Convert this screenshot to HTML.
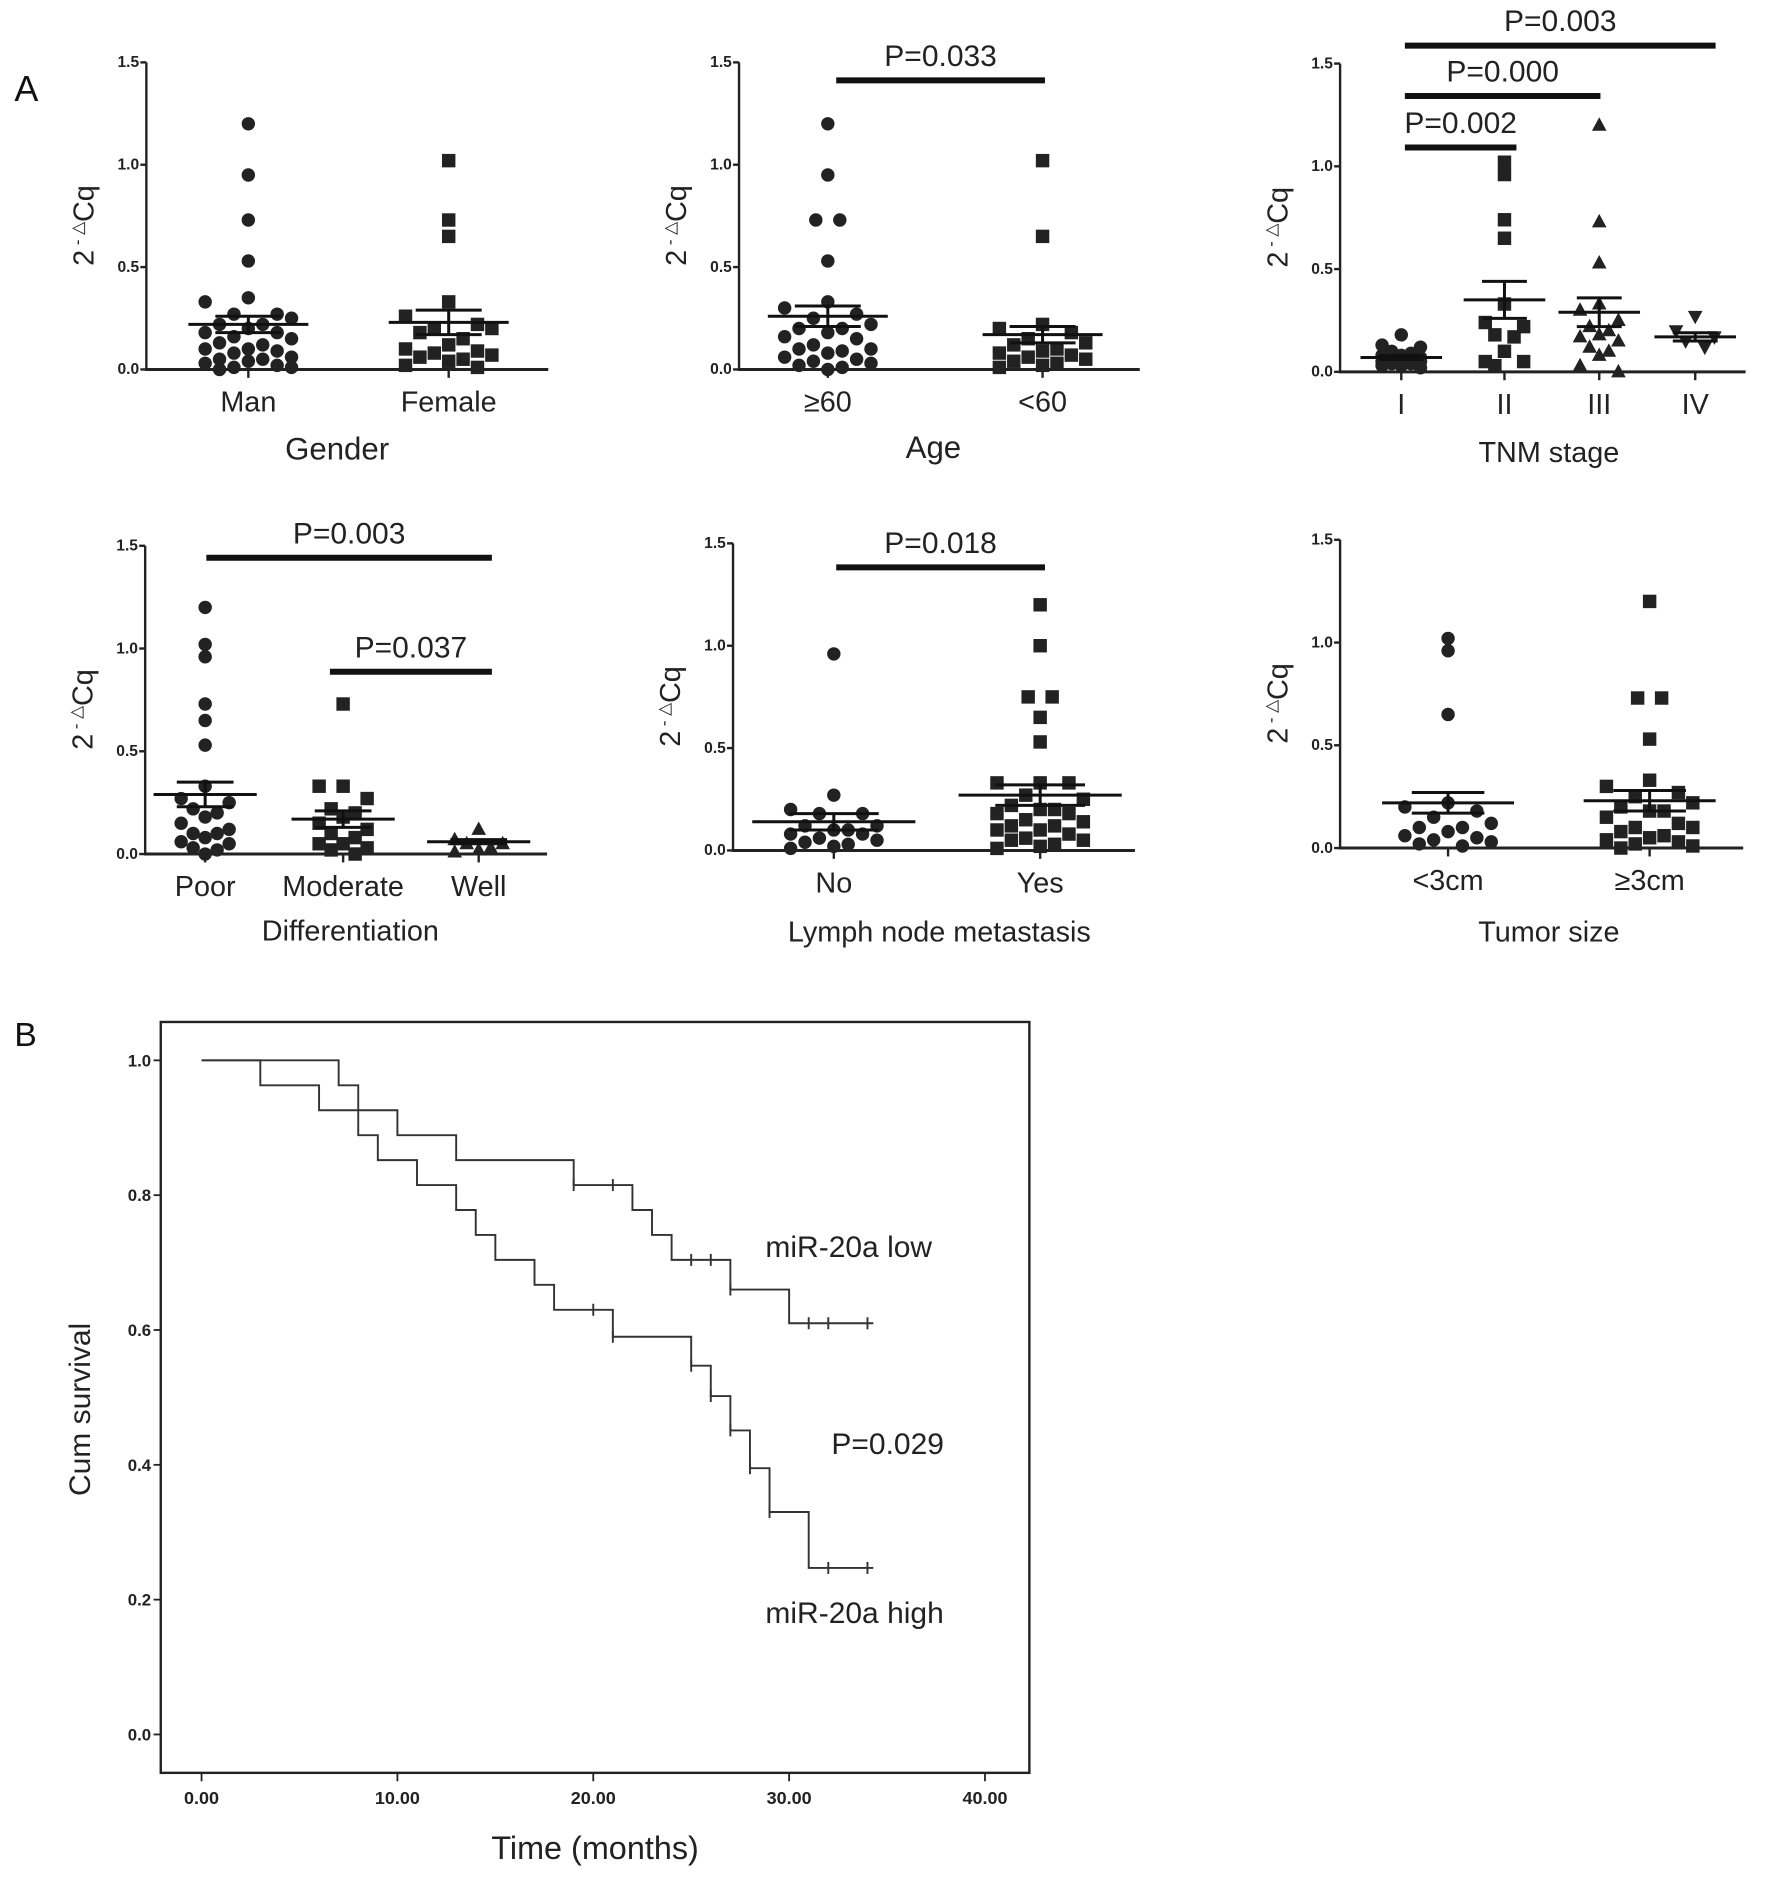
<!DOCTYPE html>
<html><head><meta charset="utf-8"><style>
html,body{margin:0;padding:0;background:#fff;}
svg{display:block;font-family:"Liberation Sans",sans-serif;}
</style></head><body>
<svg id="fig" width="1772" height="1888" viewBox="0 0 1477 1574" preserveAspectRatio="none" xmlns="http://www.w3.org/2000/svg">
<rect width="1477" height="1574" fill="#fff"/>
<text x="12" y="84" font-size="30" fill="#111">A</text>
<text x="12" y="872" font-size="28" fill="#111">B</text>
<g id="scatter"></g>
<g id="km"></g>
</svg>
<script>
// ---- scatter data ----
const genderCats = ["Man","Female"];
const genderMan = [1.2,0.95,0.73,0.53,0.35,0.33,0.27,0.27,0.25,0.22,0.22,0.2,0.18,0.18,0.16,0.15,0.13,0.12,0.1,0.1,0.09,0.08,0.06,0.05,0.05,0.04,0.03,0.02,0.01,0.01,0.0];
const genderFemale = [1.02,0.73,0.65,0.33,0.26,0.22,0.2,0.2,0.18,0.15,0.12,0.1,0.09,0.08,0.07,0.06,0.05,0.04,0.02,0.01];
const genderMeans = [0.22,0.23];
const genderSems = [0.04,0.06];
const ageCats = ["≥60","<60"];
const ageOld = [1.2,0.95,0.73,0.73,0.53,0.33,0.3,0.27,0.25,0.22,0.2,0.2,0.18,0.16,0.15,0.12,0.1,0.1,0.09,0.08,0.06,0.05,0.04,0.03,0.02,0.01,0.0];
const ageYoung = [1.02,0.65,0.22,0.2,0.18,0.15,0.13,0.12,0.1,0.09,0.08,0.07,0.06,0.05,0.04,0.03,0.02,0.01];
const ageMeans = [0.26,0.17];
const ageSems = [0.05,0.04];
const tnmCats = ["I","II","III","IV"];
const tnmI = [0.18,0.13,0.12,0.1,0.09,0.08,0.08,0.07,0.07,0.06,0.06,0.05,0.05,0.04,0.04,0.03,0.03,0.02];
const tnmII = [1.02,0.96,0.74,0.65,0.33,0.24,0.22,0.18,0.17,0.1,0.05,0.05,0.03];
const tnmIII = [1.2,0.73,0.53,0.33,0.3,0.25,0.22,0.2,0.18,0.17,0.15,0.12,0.1,0.08,0.03,0.0];
const tnmIV = [0.27,0.2,0.17,0.15,0.12];
const tnmMeans = [0.07,0.35,0.29,0.17];
const tnmSems = [0.01,0.09,0.07,0.02];
const diffCats = ["Poor","Moderate","Well"];
const diffPoor = [1.2,1.02,0.96,0.73,0.65,0.53,0.33,0.27,0.25,0.22,0.2,0.18,0.15,0.12,0.1,0.1,0.08,0.06,0.05,0.03,0.02,0.0];
const diffModerate = [0.73,0.33,0.33,0.27,0.22,0.2,0.18,0.15,0.12,0.1,0.08,0.05,0.05,0.03,0.02,0.0];
const diffWell = [0.12,0.07,0.05,0.05,0.03,0.02,0.01];
const diffMeans = [0.29,0.17,0.06];
const diffSems = [0.06,0.04,0.01];
const lymphCats = ["No","Yes"];
const lymphNo = [0.96,0.27,0.2,0.18,0.18,0.12,0.12,0.1,0.1,0.08,0.08,0.06,0.05,0.04,0.03,0.02,0.01];
const lymphYes = [1.2,1.0,0.75,0.75,0.65,0.53,0.33,0.33,0.33,0.27,0.25,0.22,0.2,0.2,0.18,0.18,0.15,0.14,0.12,0.12,0.1,0.1,0.08,0.06,0.05,0.05,0.03,0.02,0.01];
const lymphMeans = [0.14,0.27];
const lymphSems = [0.04,0.05];
const sizeCats = ["<3cm","≥3cm"];
const sizeSmall = [1.02,0.96,0.65,0.22,0.2,0.18,0.15,0.12,0.1,0.1,0.08,0.06,0.05,0.04,0.03,0.02,0.01];
const sizeLarge = [1.2,0.73,0.73,0.53,0.33,0.3,0.27,0.25,0.22,0.2,0.18,0.18,0.15,0.12,0.1,0.1,0.08,0.06,0.05,0.04,0.03,0.02,0.01,0.0];
const sizeMeans = [0.22,0.23];
const sizeSems = [0.05,0.05];
const yTicks = [0,0.5,1.0,1.5];
const yTickLabels = ["0.0","0.5","1.0","1.5"];
const pLabelsTnm = ["P=0.002","P=0.000","P=0.003"];
const pLabelsDiff = ["P=0.003","P=0.037"];

// ---- KM data ----
const lowTimes = [0,7,8,10,13,19,22,23,24,27,30];
const lowSurv = [1,0.963,0.926,0.889,0.852,0.815,0.778,0.741,0.704,0.66,0.61];
const lowCensor = [19,21,25,26,27,31,32,34];
const lowEnd = 34.3;
const highTimes = [0,3,6,8,9,11,13,14,15,17,18,21,25,26,27,28,29,31];
const highSurv = [1,0.963,0.926,0.889,0.852,0.815,0.778,0.741,0.704,0.667,0.63,0.59,0.547,0.502,0.451,0.395,0.33,0.247];
const highCensor = [20,21,25,26,27,28,29,32,34];
const highEnd = 34.3;
const kmXTicks = [0,10,20,30,40];
const kmXTickLabels = ["0.00","10.00","20.00","30.00","40.00"];
const kmYTicks = [0,0.2,0.4,0.6,0.8,1.0];
const kmYTickLabels = ["0.0","0.2","0.4","0.6","0.8","1.0"];

const NS="http://www.w3.org/2000/svg";
function mk(tag, attrs, parent){const e=document.createElementNS(NS,tag);for(const k in attrs)e.setAttribute(k,attrs[k]);parent.appendChild(e);return e;}
const root=document.getElementById('scatter');

function marker(g, shape, x, y){
  let e; const r=5.6;
  if(shape==='circle') e=mk('circle',{cx:x,cy:y,r:r,fill:'#222'},g);
  else if(shape==='square') e=mk('rect',{x:x-r,y:y-r,width:2*r,height:2*r,fill:'#222'},g);
  else if(shape==='tri') e=mk('polygon',{points:`${x},${y-r-1} ${x-r-0.5},${y+r-1} ${x+r+0.5},${y+r-1}`,fill:'#222'},g);
  else e=mk('polygon',{points:`${x},${y+r+1} ${x-r-0.5},${y-r+1} ${x+r+0.5},${y-r+1}`,fill:'#222'},g);
  
  
}

function panel(cfg){
  const g=mk('g',{},root);
  
  
  const ys=v=>cfg.y0-(cfg.y0-cfg.y15)*v/1.5;
  const ax=mk('line',{x1:cfg.ax,y1:cfg.y15,x2:cfg.ax,y2:cfg.y0,stroke:'#222','stroke-width':2},g);
  
  const xa=mk('line',{x1:cfg.ax-1,y1:cfg.y0,x2:cfg.xr,y2:cfg.y0,stroke:'#222','stroke-width':2.5},g);
  
  yTicks.forEach((t,i)=>{
    mk('line',{x1:cfg.ax-5,y1:ys(t),x2:cfg.ax,y2:ys(t),stroke:'#222','stroke-width':2},g);
    const tx=mk('text',{x:cfg.ax-6,y:ys(t)+4,'font-size':13,'font-weight':'bold','text-anchor':'end',fill:'#222'},g);
    tx.textContent=yTickLabels[i];
    
  });
  const yl=mk('text',{transform:`translate(${cfg.ax-44},${(cfg.y0+cfg.y15)/2+8}) rotate(-90)`,'font-size':24,'text-anchor':'middle',fill:'#222'},g);
  
  yl.innerHTML='2<tspan font-size="14" dy="-9"> - △</tspan><tspan dy="9">Cq</tspan>';
  const sp=cfg.sp||12;
  cfg.groups.forEach((vals,gi)=>{
    const cx=cfg.xs[gi];
    mk('line',{x1:cx,y1:cfg.y0,x2:cx,y2:cfg.y0+7,stroke:'#222','stroke-width':2},g);
    const lab=mk('text',{x:cx,y:cfg.y0+35,'font-size':cfg.catFs||24,'text-anchor':'middle',fill:'#222'},g);
    lab.textContent=cfg.cats[gi];
    
    const cols=cfg.cols||7;
    const low=vals.filter(v=>v<0.4);
    const high=vals.filter(v=>v>=0.4);
    const nc=Math.min(cols,low.length);
    const order7=[3,0,5,2,6,1,4], order5=[2,0,4,1,3];
    low.forEach((v,k)=>{
      let c;
      if(nc===7) c=order7[k%7]; else if(nc===5) c=order5[k%5]; else c=k%nc;
      const off=(c-(nc-1)/2)*sp;
      marker(g,cfg.shapes[gi],cx+off,ys(v));
    });
    const bins={};
    high.forEach(v=>{const b=Math.round(v/0.05);(bins[b]=bins[b]||[]).push(v);});
    Object.keys(bins).forEach(b=>{
      const arr=bins[b];const n=arr.length;
      arr.forEach((v,k)=>marker(g,cfg.shapes[gi],cx+(k-(n-1)/2)*20,ys(v)));
    });
    const m=cfg.means[gi], s=cfg.sems[gi];
    mk('line',{x1:cx-cfg.mw,y1:ys(m),x2:cx+cfg.mw,y2:ys(m),stroke:'#111','stroke-width':2.5},g);
    mk('line',{x1:cx-cfg.mw*0.55,y1:ys(m+s),x2:cx+cfg.mw*0.55,y2:ys(m+s),stroke:'#111','stroke-width':2.5},g);
    mk('line',{x1:cx-cfg.mw*0.55,y1:ys(m-s),x2:cx+cfg.mw*0.55,y2:ys(m-s),stroke:'#111','stroke-width':2.5},g);
    mk('line',{x1:cx,y1:ys(m+s),x2:cx,y2:ys(m-s),stroke:'#111','stroke-width':2.5},g);
  });
  const tt=mk('text',{x:cfg.tx,y:cfg.ty,'font-size':cfg.tfs||26,'text-anchor':'middle',fill:'#222'},g);
  tt.textContent=cfg.title;
  
  (cfg.bars||[]).forEach(b=>{
    const bl=mk('line',{x1:b[0],y1:b[2],x2:b[1],y2:b[2],stroke:'#111','stroke-width':5},g);
    
    const pt=mk('text',{x:(b[0]+b[1])/2,y:b[2]-12,'font-size':25,'text-anchor':'middle',fill:'#222'},g);
    pt.textContent=b[3];
    
  });
}

panel({name:'gender-panel',ax:122,y0:308,y15:52,xr:457,xs:[207,374],cats:genderCats,groups:[genderMan,genderFemale],shapes:['circle','square'],means:genderMeans,sems:genderSems,mw:50,title:'Gender',tx:281,ty:383});
panel({name:'age-panel',ax:616,y0:308,y15:52,xr:950,xs:[690,869],cats:ageCats,groups:[ageOld,ageYoung],shapes:['circle','square'],means:ageMeans,sems:ageSems,mw:50,title:'Age',tx:778,ty:382,bars:[[697,871,67,'P=0.033']]});
panel({name:'tnm-panel',ax:1117,y0:310,y15:53,xr:1455,xs:[1168,1254,1333,1413],cats:tnmCats,groups:[tnmI,tnmII,tnmIII,tnmIV],shapes:['circle','square','tri','dtri'],means:tnmMeans,sems:tnmSems,mw:34,cols:5,sp:8,title:'TNM  stage',tx:1291,ty:385,tfs:24,bars:[[1171,1264,123,pLabelsTnm[0]],[1171,1334,80,pLabelsTnm[1]],[1171,1430,38,pLabelsTnm[2]]]});
panel({name:'differentiation-panel',ax:121,y0:712,y15:455,xr:456,xs:[171,286,399],cats:diffCats,groups:[diffPoor,diffModerate,diffWell],shapes:['circle','square','tri'],means:diffMeans,sems:diffSems,mw:43,cols:5,sp:10,title:'Differentiation',tx:292,ty:784,tfs:24,bars:[[172,410,465,pLabelsDiff[0]],[275,410,560,pLabelsDiff[1]]]});
panel({name:'lymph-node-panel',ax:611,y0:709,y15:453,xr:946,xs:[695,867],cats:lymphCats,groups:[lymphNo,lymphYes],shapes:['circle','square'],means:lymphMeans,sems:lymphSems,mw:68,title:'Lymph  node metastasis',tx:783,ty:785,tfs:24,bars:[[697,871,473,'P=0.018']]});
panel({name:'tumor-size-panel',ax:1117,y0:707,y15:450,xr:1453,xs:[1207,1375],cats:sizeCats,groups:[sizeSmall,sizeLarge],shapes:['circle','square'],means:sizeMeans,sems:sizeSems,mw:55,title:'Tumor size',tx:1291,ty:785,tfs:24});

// ---- KM ----
const km=document.getElementById('km');
const kx=t=>168+t*(821-168)/40;
const ky=s=>1446-s*(1446-884);
const fr=mk('rect',{x:134,y:852,width:724,height:626,fill:'none',stroke:'#222','stroke-width':2},km);

kmYTicks.forEach((t,i)=>{
  mk('line',{x1:128,y1:ky(t),x2:134,y2:ky(t),stroke:'#222','stroke-width':1.5},km);
  const tx=mk('text',{x:126,y:ky(t)+5,'font-size':14,'font-weight':'bold','text-anchor':'end',fill:'#222'},km);
  tx.textContent=kmYTickLabels[i];
  
});
kmXTicks.forEach((t,i)=>{
  mk('line',{x1:kx(t),y1:1478,x2:kx(t),y2:1485,stroke:'#222','stroke-width':1.5},km);
  const tx=mk('text',{x:kx(t),y:1504,'font-size':15,'font-weight':'bold','text-anchor':'middle',fill:'#222'},km);
  tx.textContent=kmXTickLabels[i];
  
});
function kmCurve(times,surv,censor,end,name){
  let d=`M${kx(times[0])},${ky(surv[0])}`;
  for(let i=1;i<times.length;i++){d+=` H${kx(times[i])} V${ky(surv[i])}`;}
  d+=` H${kx(end)}`;
  const p=mk('path',{d:d,fill:'none',stroke:'#333','stroke-width':1.6},km);
  
  
  censor.forEach(c=>{
    let s=surv[0];for(let i=0;i<times.length;i++){if(times[i]<=c)s=surv[i];}
    const cl=mk('line',{x1:kx(c),y1:ky(s)-5,x2:kx(c),y2:ky(s)+5,stroke:'#333','stroke-width':1.6},km);
    
  });
}
kmCurve(lowTimes,lowSurv,lowCensor,lowEnd,'mir20a-low-curve');
kmCurve(highTimes,highSurv,highCensor,highEnd,'mir20a-high-curve');
[['miR-20a low',638,1048,'low-label'],['P=0.029',693,1212,'km-p-value'],['miR-20a high',638,1353,'high-label']].forEach(a=>{
  const t=mk('text',{x:a[1],y:a[2],'font-size':25,fill:'#222'},km);
  t.textContent=a[0];
  
});
const kyl=mk('text',{transform:'translate(75,1175) rotate(-90)','font-size':25,'text-anchor':'middle',fill:'#222'},km);
kyl.textContent='Cum survival';

const kxl=mk('text',{x:496,y:1550,'font-size':27,'text-anchor':'middle',fill:'#222'},km);
kxl.textContent='Time (months)';

</script>
</body></html>
